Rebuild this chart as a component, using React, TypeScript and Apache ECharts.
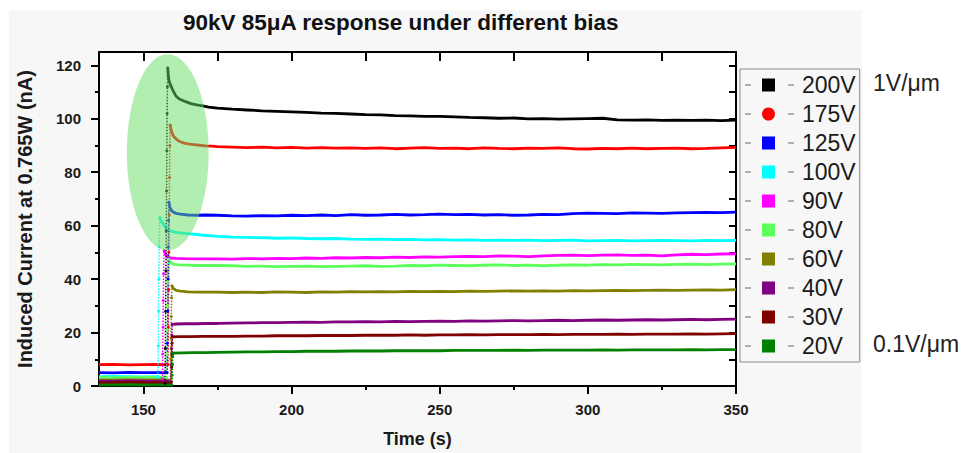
import React, { useEffect, useRef } from "react";
import * as echarts from "echarts";

const FONT = '"Liberation Sans", Arial, Helvetica, sans-serif';

const TITLE = "90kV 85μA response under different bias";
const X_NAME = "Time (s)";
const Y_NAME = "Induced Current at 0.765W (nA)";
const X_MIN = 135;
const X_MAX = 350;
const Y_MIN = 0;
const Y_MAX = 125;
const X_LABELS = [150, 200, 250, 300, 350];
const X_MINOR = [175, 225, 275, 325];
const TOP_TICKS = [150, 175, 200, 225, 250, 275, 300, 325];
const Y_LABELS = [0, 20, 40, 60, 80, 100, 120];
const Y_MINOR = [10, 30, 50, 70, 90, 110];
const RIGHT_TICKS = [10, 20, 30, 40, 50, 60, 70, 80, 90, 100, 110, 120];

const NOTE_TOP = "1V/μm";
const NOTE_BOTTOM = "0.1V/μm";

// shared time axis of the slow plateau part (s)
const tailTimes = [175, 180, 185, 190, 195, 200, 205, 210, 215, 220, 225, 230, 235, 240, 245, 250, 255, 260, 265, 270, 275, 280, 285, 290, 295, 300, 305, 310, 315, 320, 325, 330, 335, 340, 345, 350];

// ---- 200V ----
const base200 = [[135, 1.0], [140, 1.1], [145, 1.0], [150, 1.1], [155, 1.0], [157.3, 1.0]];
const rise200 = [[157.4, 14], [157.5, 28], [157.6, 43], [157.7, 58], [157.8, 73], [157.9, 88], [158.0, 102], [158.1, 112]];
const decay200 = [[158.2, 119], [158.4, 116], [158.7, 114], [159.2, 112.5], [160, 110.5], [161, 108.5], [162, 107.5], [164, 106.5], [166, 105.7], [168, 105.2], [170, 104.8], [172, 104.4]];
const tail200 = [104.0, 103.6, 103.3, 103.0, 102.8, 102.6, 102.4, 102.1, 102.0, 101.8, 101.6, 101.5, 101.2, 101.1, 100.9, 100.9, 100.7, 100.5, 100.4, 100.2, 100.3, 100.0, 100.1, 99.9, 100.0, 100.1, 100.2, 99.6, 99.5, 99.6, 99.4, 99.5, 99.4, 99.5, 99.3, 99.5];

// ---- 175V ----
const base175 = [[135, 8.0], [140, 8.1], [145, 7.9], [150, 8.0], [155, 8.1], [158.3, 8.0]];
const rise175 = [[158.4, 22], [158.5, 36], [158.6, 50], [158.7, 64], [158.8, 78], [158.9, 90]];
const decay175 = [[159.0, 97.7], [159.3, 96], [159.7, 94.5], [160.3, 93.3], [161, 92.5], [162, 91.6], [163.5, 91], [165, 90.6], [167, 90.3], [169, 90.1], [171, 89.9], [173, 89.8]];
const tail175 = [89.6, 89.4, 89.2, 89.4, 89.1, 89.3, 89.0, 89.2, 89.0, 89.1, 88.9, 89.1, 88.8, 89.0, 89.2, 88.9, 89.0, 88.8, 89.1, 88.9, 88.8, 89.0, 88.9, 89.1, 88.8, 88.7, 88.9, 88.8, 89.0, 88.8, 88.9, 89.0, 88.8, 88.9, 89.1, 89.3];

// ---- 125V ----
const base125 = [[135, 5.0], [140, 4.9], [145, 5.1], [150, 5.0], [155, 5.0], [158.0, 5.0]];
const rise125 = [[158.1, 16], [158.2, 28], [158.3, 40], [158.4, 52], [158.5, 62]];
const decay125 = [[158.6, 68.8], [158.9, 67], [159.4, 65.8], [160, 65.1], [161, 64.6], [162.5, 64.3], [165, 64.0], [168, 63.9], [171, 64.0]];
const tail125 = [63.9, 63.7, 63.6, 63.8, 63.7, 63.9, 63.8, 64.0, 63.8, 64.1, 63.9, 64.0, 64.2, 64.0, 64.1, 64.3, 64.1, 64.2, 64.0, 64.1, 63.9, 64.0, 64.2, 64.1, 64.5, 64.7, 64.6, 64.5, 64.8, 64.7, 64.6, 64.8, 64.9, 65.0, 64.9, 65.1];

// ---- 100V ----
const base100 = [[135, 3.5], [140, 3.6], [145, 3.5], [150, 3.4], [154.9, 3.5]];
const rise100 = [[155.0, 15], [155.1, 28], [155.2, 40], [155.3, 52]];
const decay100 = [[155.5, 63], [155.8, 62], [156.4, 61.2], [157.3, 59.5], [158, 58.6], [159, 58.1], [160.5, 57.6], [162.4, 57.3], [165, 57.0], [168, 56.7], [171, 56.4]];
const tail100 = [56.0, 55.7, 55.6, 55.5, 55.3, 55.4, 55.2, 55.1, 55.2, 55.0, 54.9, 55.0, 54.8, 54.9, 54.7, 54.8, 54.6, 54.7, 54.5, 54.6, 54.5, 54.6, 54.4, 54.5, 54.6, 54.3, 54.4, 54.5, 54.3, 54.4, 54.5, 54.4, 54.3, 54.5, 54.4, 54.5];

// ---- 90V ----
const base90 = [[135, 2.6], [140, 2.7], [145, 2.6], [150, 2.6], [156.4, 2.6]];
const rise90 = [[156.5, 12], [156.6, 22], [156.7, 32], [156.8, 42]];
const decay90 = [[157.0, 50.6], [157.4, 49.5], [158, 48.3], [159, 47.9], [161, 47.8], [164, 47.7], [168, 47.6], [172, 47.6]];
const tail90 = [47.6, 47.5, 47.7, 47.6, 47.8, 47.7, 47.9, 47.8, 48.0, 47.9, 48.1, 48.0, 48.2, 48.1, 48.3, 48.2, 48.4, 48.5, 48.4, 48.7, 48.6, 48.4, 48.7, 48.9, 49.0, 48.8, 49.0, 49.1, 48.9, 49.0, 48.7, 49.1, 49.3, 49.2, 49.4, 49.5];

// ---- 80V ----
const base80 = [[135, 3.2], [140, 3.1], [145, 3.2], [150, 3.2], [157.8, 3.2]];
const rise80 = [[157.9, 12], [158.0, 21], [158.1, 30], [158.2, 39]];
const decay80 = [[158.4, 47.5], [158.8, 46.6], [159.5, 45.9], [160.5, 45.5], [162, 45.3], [165, 45.2], [168, 45.1], [172, 45.1]];
const tail80 = [45.1, 45.0, 44.8, 44.9, 44.7, 44.8, 44.9, 44.7, 44.8, 44.9, 45.0, 44.8, 44.9, 45.1, 45.0, 45.2, 45.1, 45.0, 45.2, 45.3, 45.1, 45.2, 45.0, 45.2, 45.3, 45.2, 45.4, 45.3, 45.5, 45.4, 45.3, 45.5, 45.6, 45.4, 45.6, 45.7];

// ---- 60V ----
const base60 = [[135, 2.2], [140, 2.2], [145, 2.3], [150, 2.2], [159.1, 2.2]];
const rise60 = [[159.2, 10], [159.3, 18], [159.4, 26], [159.5, 33]];
const decay60 = [[159.6, 37.5], [160, 36.6], [161, 35.8], [162.5, 35.5], [165, 35.2], [168, 35.1], [172, 35.1]];
const tail60 = [35.1, 35.0, 35.1, 35.0, 35.2, 35.1, 35.0, 35.2, 35.1, 35.3, 35.2, 35.3, 35.2, 35.4, 35.3, 35.4, 35.3, 35.5, 35.4, 35.5, 35.6, 35.5, 35.6, 35.5, 35.7, 35.6, 35.7, 35.8, 35.7, 35.8, 35.9, 35.8, 35.9, 36.0, 35.9, 36.1];

// ---- 40V ----
const base40 = [[135, 1.8], [140, 1.8], [145, 1.9], [150, 1.8], [159.3, 1.8]];
const rise40 = [[159.4, 8], [159.5, 14], [159.6, 19]];
const decay40 = [[159.7, 23.1], [161, 23.2], [164, 23.3], [168, 23.3], [172, 23.4]];
const tail40 = [23.4, 23.5, 23.6, 23.7, 23.7, 23.8, 23.9, 23.8, 24.0, 24.0, 24.1, 24.0, 24.2, 24.1, 24.2, 24.3, 24.2, 24.4, 24.3, 24.4, 24.5, 24.4, 24.5, 24.6, 24.5, 24.6, 24.7, 24.6, 24.7, 24.8, 24.7, 24.8, 24.9, 24.8, 24.9, 25.0];

// ---- 30V ----
const base30 = [[135, 1.3], [140, 1.3], [145, 1.4], [150, 1.3], [159.4, 1.3]];
const rise30 = [[159.5, 7], [159.6, 12], [159.7, 16]];
const decay30 = [[159.8, 18.4], [162, 18.5], [166, 18.5], [170, 18.6]];
const tail30 = [18.6, 18.6, 18.7, 18.7, 18.8, 18.8, 18.8, 18.9, 18.9, 18.9, 19.0, 19.0, 19.0, 19.1, 19.0, 19.1, 19.1, 19.2, 19.1, 19.2, 19.2, 19.2, 19.3, 19.2, 19.3, 19.3, 19.3, 19.4, 19.3, 19.4, 19.4, 19.4, 19.5, 19.4, 19.5, 19.6];

// ---- 20V ----
const base20 = [[135, 0.4], [140, 0.4], [145, 0.5], [150, 0.4], [159.6, 0.4]];
const rise20 = [[159.7, 4], [159.8, 8], [159.9, 11]];
const decay20 = [[160.0, 12.3], [163, 12.4], [167, 12.5], [171, 12.5]];
const tail20 = [12.6, 12.7, 12.8, 12.8, 12.9, 12.9, 13.0, 13.0, 13.0, 13.1, 13.1, 13.1, 13.2, 13.2, 13.2, 13.2, 13.3, 13.3, 13.3, 13.3, 13.4, 13.3, 13.4, 13.4, 13.4, 13.4, 13.5, 13.4, 13.5, 13.5, 13.5, 13.5, 13.6, 13.5, 13.6, 13.6];

// highlighted region (ellipse): centre time, centre current, half-width (s), half-height (nA)
const highlight = [[158.2, 87.5, 13.8, 36.7]];

const SERIES = [
  { name: "200V", color: "#000000", icon: "rect", base: base200, rise: rise200, decay: decay200, tail: tail200 },
  { name: "175V", color: "#ff0000", icon: "circle", base: base175, rise: rise175, decay: decay175, tail: tail175 },
  { name: "125V", color: "#0000ff", icon: "rect", base: base125, rise: rise125, decay: decay125, tail: tail125 },
  { name: "100V", color: "#00ffff", icon: "rect", base: base100, rise: rise100, decay: decay100, tail: tail100 },
  { name: "90V", color: "#ff00ff", icon: "rect", base: base90, rise: rise90, decay: decay90, tail: tail90 },
  { name: "80V", color: "#5cff5c", icon: "rect", base: base80, rise: rise80, decay: decay80, tail: tail80 },
  { name: "60V", color: "#808000", icon: "rect", base: base60, rise: rise60, decay: decay60, tail: tail60 },
  { name: "40V", color: "#800080", icon: "rect", base: base40, rise: rise40, decay: decay40, tail: tail40 },
  { name: "30V", color: "#800000", icon: "rect", base: base30, rise: rise30, decay: decay30, tail: tail30 },
  { name: "20V", color: "#008000", icon: "rect", base: base20, rise: rise20, decay: decay20, tail: tail20 },
];

function buildOption() {
  const series: any[] = [];
  SERIES.forEach((s) => {
    const main = [
      ...s.base,
      [s.rise[0][0], "-"],
      ...s.decay,
      ...tailTimes.map((t, i) => [t, s.tail[i]]),
    ];
    series.push({
      type: "line",
      name: s.name,
      data: main,
      showSymbol: false,
      symbol: "none",
      xAxisIndex: 0,
      yAxisIndex: 0,
      connectNulls: false,
      itemStyle: { color: s.color },
      lineStyle: { color: s.color, width: 2.8 },
      z: 2,
    });
    const riseData = [s.base[s.base.length - 1], ...s.rise, s.decay[0]];
    series.push({
      type: "line",
      name: s.name,
      data: riseData,
      showSymbol: true,
      symbol: "circle",
      symbolSize: 3,
      xAxisIndex: 0,
      yAxisIndex: 0,
      itemStyle: { color: s.color, borderWidth: 0 },
      lineStyle: { color: s.color, width: 1.5, type: "dotted" },
      z: 3,
    });
  });

  series.push({
    type: "custom",
    name: "highlight",
    silent: true,
    xAxisIndex: 0,
    yAxisIndex: 0,
    z: 5,
    data: highlight,
    renderItem: (params: any, api: any) => {
      const c = api.coord([api.value(0), api.value(1)]);
      const sz = api.size([api.value(2), api.value(3)]);
      return {
        type: "ellipse",
        shape: { cx: c[0], cy: c[1], rx: sz[0], ry: sz[1] },
        style: { fill: "rgba(100,222,95,0.5)" },
      };
    },
  });

  const axisLineStyle = { color: "#000", width: 2 };
  const tickStyle = { color: "#000", width: 2 };
  const labelStyle = { fontSize: 15, fontWeight: "bold", color: "#1a1a1a", fontFamily: FONT };

  const dashes: any[] = [];
  for (let i = 0; i < SERIES.length; i++) {
    const y = 85 + i * 29;
    dashes.push({ type: "line", shape: { x1: 745, y1: y, x2: 751, y2: y }, style: { stroke: "#999", lineWidth: 1.5 } });
    dashes.push({ type: "line", shape: { x1: 788, y1: y, x2: 794, y2: y }, style: { stroke: "#999", lineWidth: 1.5 } });
  }

  return {
    animation: false,
    backgroundColor: "#f7f7f7",
    title: {
      text: TITLE,
      left: 183,
      top: 11,
      padding: 0,
      textStyle: { fontSize: 22.5, fontWeight: "bold", color: "#111", fontFamily: FONT },
    },
    grid: {
      left: 99,
      right: 227,
      top: 52,
      bottom: 66,
      show: true,
      backgroundColor: "#ffffff",
      borderWidth: 0,
      containLabel: false,
    },
    legend: {
      show: true,
      orient: "vertical",
      left: 740,
      top: 69,
      padding: [4, 4, 4, 22],
      itemGap: 5,
      itemWidth: 13,
      itemHeight: 13,
      borderColor: "#8a8a8a",
      borderWidth: 1,
      selectedMode: false,
      textStyle: { fontSize: 23, fontFamily: FONT, color: "#1a1a1a", lineHeight: 24, padding: [0, 0, 0, 22] },
      data: SERIES.map((s) => ({ name: s.name, icon: s.icon })),
    },
    xAxis: [
      {
        type: "value",
        position: "bottom",
        min: X_MIN,
        max: X_MAX,
        axisLine: { show: true, onZero: false, lineStyle: axisLineStyle },
        axisTick: { show: true, inside: false, length: 8, lineStyle: tickStyle, customValues: X_LABELS },
        axisLabel: { show: true, customValues: X_LABELS, margin: 16, ...labelStyle },
        splitLine: { show: false },
        name: X_NAME,
        nameLocation: "middle",
        nameGap: 44,
        nameTextStyle: { fontSize: 18, fontWeight: "bold", color: "#1a1a1a", fontFamily: FONT },
      },
      {
        type: "value",
        position: "bottom",
        min: X_MIN,
        max: X_MAX,
        axisLine: { show: false, onZero: false },
        axisTick: { show: true, inside: false, length: 4, lineStyle: tickStyle, customValues: X_MINOR },
        axisLabel: { show: false },
        splitLine: { show: false },
      },
      {
        type: "value",
        position: "top",
        min: X_MIN,
        max: X_MAX,
        axisLine: { show: true, onZero: false, lineStyle: axisLineStyle },
        axisTick: { show: true, inside: true, length: 9, lineStyle: tickStyle, customValues: TOP_TICKS },
        axisLabel: { show: false },
        splitLine: { show: false },
      },
    ],
    yAxis: [
      {
        type: "value",
        position: "left",
        min: Y_MIN,
        max: Y_MAX,
        axisLine: { show: true, onZero: false, lineStyle: axisLineStyle },
        axisTick: { show: true, inside: false, length: 8, lineStyle: tickStyle, customValues: Y_LABELS },
        axisLabel: { show: true, customValues: Y_LABELS, margin: 18, ...labelStyle },
        splitLine: { show: false },
        name: Y_NAME,
        nameLocation: "middle",
        nameRotate: 90,
        nameGap: 64,
        nameTextStyle: { fontSize: 20, fontWeight: "bold", color: "#1a1a1a", fontFamily: FONT },
      },
      {
        type: "value",
        position: "left",
        min: Y_MIN,
        max: Y_MAX,
        axisLine: { show: false, onZero: false },
        axisTick: { show: true, inside: false, length: 4, lineStyle: tickStyle, customValues: Y_MINOR },
        axisLabel: { show: false },
        splitLine: { show: false },
      },
      {
        type: "value",
        position: "right",
        min: Y_MIN,
        max: Y_MAX,
        axisLine: { show: true, onZero: false, lineStyle: axisLineStyle },
        axisTick: { show: true, inside: true, length: 7, lineStyle: tickStyle, customValues: RIGHT_TICKS },
        axisLabel: { show: false },
        splitLine: { show: false },
      },
    ],
    graphic: [
      { type: "rect", shape: { x: 0, y: 0, width: 963, height: 10 }, style: { fill: "#ffffff" }, z: -10, silent: true },
      { type: "rect", shape: { x: 0, y: 0, width: 9, height: 453 }, style: { fill: "#ffffff" }, z: -10, silent: true },
      { type: "rect", shape: { x: 862, y: 0, width: 101, height: 453 }, style: { fill: "#ffffff" }, z: -10, silent: true },
      ...dashes,
      {
        type: "text",
        x: 873,
        y: 83,
        style: { text: NOTE_TOP, fontSize: 23, fontFamily: FONT, fill: "#222", verticalAlign: "middle" },
      },
      {
        type: "text",
        x: 873,
        y: 344,
        style: { text: NOTE_BOTTOM, fontSize: 23, fontFamily: FONT, fill: "#222", verticalAlign: "middle" },
      },
    ],
    series,
  };
}

export default function App() {
  const ref = useRef<HTMLDivElement>(null);
  useEffect(() => {
    if (!ref.current) return;
    const chart = echarts.init(ref.current, null, { renderer: "svg" });
    chart.setOption(buildOption() as any);
    return () => chart.dispose();
  }, []);
  return <div ref={ref} style={{ position: "fixed", left: 0, top: 0, width: 963, height: 453 }} />;
}
